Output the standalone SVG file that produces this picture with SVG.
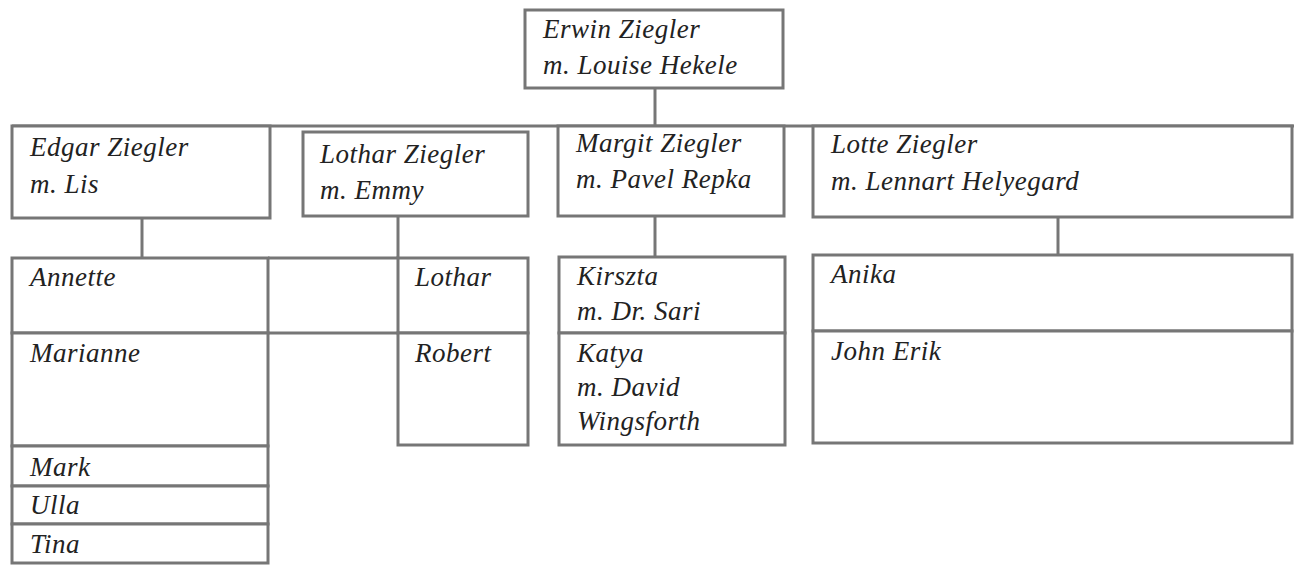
<svg xmlns="http://www.w3.org/2000/svg" width="1294" height="566" viewBox="0 0 1294 566">
<style>
.b{fill:#fff;stroke:#767676;stroke-width:3}
.c{stroke:#767676;stroke-width:3;fill:none}
.t{font-family:"Liberation Serif","DejaVu Serif",serif;font-style:italic;font-size:27px;letter-spacing:0.5px;fill:#222}
</style>
<rect width="1294" height="566" fill="#fff"/>
<g id="connectors">
<line class="c" x1="655" y1="88" x2="655" y2="126"/>
<line class="c" x1="12" y1="126" x2="1294" y2="126"/>
<line class="c" x1="142" y1="218" x2="142" y2="258"/>
<line class="c" x1="398" y1="216" x2="398" y2="258"/>
<line class="c" x1="655" y1="216" x2="655" y2="258"/>
<line class="c" x1="1058" y1="217" x2="1058" y2="255"/>
<line class="c" x1="268" y1="258" x2="398" y2="258"/>
<line class="c" x1="268" y1="333" x2="398" y2="333"/>
</g>
<g id="erwin"><rect class="b" x="525" y="10" width="258" height="78"/>
<text class="t" x="543" y="38">Erwin Ziegler</text><text class="t" x="543" y="74">m. Louise Hekele</text></g>
<g id="edgar"><rect class="b" x="12" y="126" width="258" height="92"/>
<text class="t" x="30" y="156">Edgar Ziegler</text><text class="t" x="30" y="193">m. Lis</text></g>
<g id="lothar"><rect class="b" x="303" y="132" width="225" height="84"/>
<text class="t" x="320" y="163">Lothar Ziegler</text><text class="t" x="320" y="199">m. Emmy</text></g>
<g id="margit"><rect class="b" x="558" y="126" width="226" height="90"/>
<text class="t" x="576" y="152">Margit Ziegler</text><text class="t" x="576" y="188">m. Pavel Repka</text></g>
<g id="lotte"><rect class="b" x="813" y="126" width="479" height="91"/>
<text class="t" x="831" y="153">Lotte Ziegler</text><text class="t" x="831" y="190">m. Lennart Helyegard</text></g>
<g id="annette"><rect class="b" x="12" y="258" width="256" height="75"/><text class="t" x="30" y="286">Annette</text></g>
<g id="marianne"><rect class="b" x="12" y="333" width="256" height="113"/><text class="t" x="30" y="362">Marianne</text></g>
<g id="mark"><rect class="b" x="12" y="446" width="256" height="40"/><text class="t" x="30" y="476">Mark</text></g>
<g id="ulla"><rect class="b" x="12" y="486" width="256" height="38"/><text class="t" x="30" y="514">Ulla</text></g>
<g id="tina"><rect class="b" x="12" y="524" width="256" height="39"/><text class="t" x="30" y="553">Tina</text></g>
<g id="lothar-jr"><rect class="b" x="398" y="258" width="130" height="75"/><text class="t" x="415" y="286">Lothar</text></g>
<g id="robert"><rect class="b" x="398" y="333" width="130" height="112"/><text class="t" x="415" y="362">Robert</text></g>
<g id="kirszta"><rect class="b" x="559" y="257" width="226" height="76"/>
<text class="t" x="577" y="285">Kirszta</text><text class="t" x="577" y="320">m. Dr. Sari</text></g>
<g id="katya"><rect class="b" x="559" y="333" width="226" height="112"/>
<text class="t" x="577" y="362">Katya</text><text class="t" x="577" y="396">m. David</text><text class="t" x="577" y="430">Wingsforth</text></g>
<g id="anika"><rect class="b" x="813" y="255" width="479" height="76"/><text class="t" x="831" y="283">Anika</text></g>
<g id="john-erik"><rect class="b" x="813" y="331" width="479" height="112"/><text class="t" x="831" y="360">John Erik</text></g>
</svg>
